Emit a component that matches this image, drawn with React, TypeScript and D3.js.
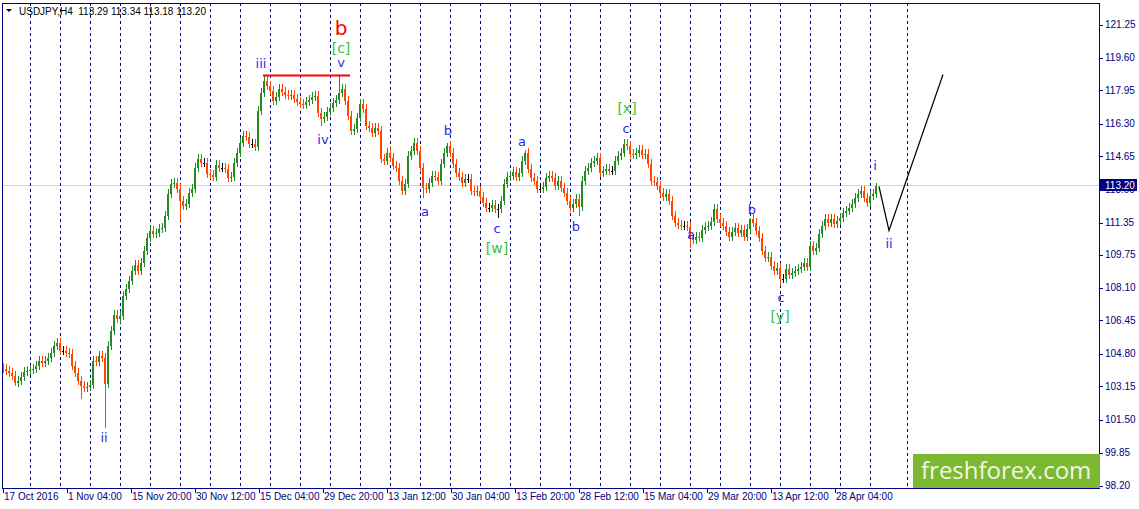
import React, { useRef, useEffect } from "react";
import * as d3 from "d3";

// USDJPY H4 closes, one value every 3 bars
const closes = [
  104.05, 103.95, 103.85, 103.70, 103.35, 103.45, 103.65, 103.90, 103.95, 104.00, 104.05, 104.20,
  104.45, 104.35, 104.45, 104.60, 104.85, 105.20, 105.35, 104.95, 104.95, 104.85, 104.80, 104.20,
  103.85, 103.45, 103.20, 103.10, 103.15, 103.25, 104.45, 104.40, 104.70, 104.60, 103.30, 105.20,
  105.95, 106.75, 106.55, 106.70, 107.70, 108.05, 108.45, 108.95, 109.25, 108.95, 109.35, 109.95,
  110.60, 110.95, 110.80, 110.85, 111.05, 111.10, 111.70, 112.80, 113.30, 113.35, 113.05, 112.45,
  112.20, 112.30, 112.85, 113.05, 114.10, 114.55, 114.35, 114.35, 113.80, 113.75, 113.65, 114.25,
  114.10, 114.10, 114.05, 113.60, 113.65, 114.35, 114.85, 115.35, 115.70, 115.65, 115.30, 115.30,
  115.15, 116.95, 117.85, 118.45, 118.20, 117.95, 117.45, 117.65, 118.05, 117.90, 117.75, 117.70,
  117.75, 117.55, 117.40, 117.30, 117.25, 117.40, 117.50, 117.65, 117.70, 116.85, 116.55, 116.65,
  116.90, 117.10, 117.35, 117.50, 117.85, 118.05, 117.45, 116.70, 115.95, 116.05, 116.60, 117.30,
  117.05, 116.20, 116.10, 115.85, 116.10, 115.95, 114.55, 114.45, 114.85, 114.60, 114.20, 114.10,
  113.45, 112.95, 113.30, 114.70, 114.95, 115.35, 114.95, 114.10, 113.10, 113.05, 113.35, 113.70,
  113.65, 113.45, 114.30, 114.85, 115.20, 114.85, 114.30, 113.85, 113.65, 113.35, 113.55, 113.55,
  112.95, 112.90, 112.95, 112.65, 112.35, 112.10, 112.10, 112.25, 112.05, 112.05, 112.45, 113.30,
  113.65, 113.70, 113.90, 113.65, 113.85, 114.45, 114.85, 114.05, 113.60, 113.45, 113.05, 113.05,
  113.15, 113.60, 113.70, 113.60, 113.20, 113.45, 113.10, 112.85, 112.45, 112.10, 112.30, 112.55,
  112.15, 113.45, 113.95, 114.10, 114.35, 114.45, 114.60, 113.85, 113.95, 114.05, 113.95, 113.95,
  114.45, 114.70, 114.85, 115.30, 115.20, 114.80, 114.75, 114.85, 115.00, 114.75, 114.80, 114.30,
  113.45, 113.40, 113.20, 112.85, 112.65, 112.80, 112.45, 111.70, 111.35, 111.25, 111.20, 111.20,
  111.15, 110.55, 110.50, 110.65, 110.60, 111.00, 111.15, 111.20, 111.40, 112.05, 111.55, 111.35,
  111.20, 110.90, 110.65, 110.90, 111.10, 110.85, 111.00, 110.65, 111.05, 111.55, 111.35, 110.95,
  110.60, 109.95, 109.60, 109.65, 109.20, 108.95, 109.10, 108.55, 108.55, 109.05, 108.75, 108.85,
  108.95, 109.05, 109.15, 109.35, 109.15, 110.20, 109.95, 110.10, 110.80, 111.20, 111.55, 111.35,
  111.55, 111.30, 111.45, 111.60, 111.85, 111.95, 112.10, 112.30, 112.60, 112.80, 112.95, 112.60,
  112.35, 112.70, 112.80, 113.20,
];
const BARS_PER_SAMPLE = 3;

// extreme wicks: [sample index, price]
const spikeHighs = [[87, 118.70], [112, 118.70], [148, 115.35], [174, 115.00], [208, 115.55], [249, 111.60], [291, 113.35]];
const spikeLows = [[4, 103.20], [26, 102.55], [34, 101.10], [59, 111.45], [106, 116.20], [140, 112.60], [165, 111.60], [192, 111.70], [229, 110.10], [259, 108.20]];

const priceTicks = [121.25, 119.60, 117.95, 116.30, 114.65, 113.00, 111.35, 109.75, 108.10, 106.45, 104.80, 103.15, 101.50, 99.85, 98.20];
const dateLabels = ["17 Oct 2016", "1 Nov 04:00", "15 Nov 20:00", "30 Nov 12:00", "15 Dec 04:00", "29 Dec 20:00", "13 Jan 12:00",
  "30 Jan 04:00", "13 Feb 20:00", "28 Feb 12:00", "15 Mar 04:00", "29 Mar 20:00", "13 Apr 12:00", "28 Apr 04:00"];
const dateLabelBars = [0, 64, 128, 192, 256, 320, 384, 448, 512, 576, 640, 704, 768, 832];
const weekSeparatorBars = [27, 57, 87, 117, 147, 177, 207, 237, 267, 297, 327, 357, 387, 417, 447, 477, 507, 537, 567, 597,
  627, 657, 687, 717, 747, 777, 807, 837, 867, 904];

const lastPrice = 113.20;
const titleText = "USDJPY,H4  113.29 113.34 113.18 113.20";

// wave marks: [text, bar, price, kind]
const waveLabels: [string, number, number, string][] = [
  ["ii", 101, 100.60, "minor"],
  ["iii", 258, 119.30, "minor"],
  ["b", 338, 121.10, "major"],
  ["[c]", 338, 120.10, "inter"],
  ["v", 338, 119.35, "minor"],
  ["iv", 320, 115.50, "minor"],
  ["a", 422, 111.90, "minor"],
  ["b", 445, 115.95, "minor"],
  ["c", 494, 111.05, "minor"],
  ["[w]", 494, 110.10, "inter"],
  ["a", 519, 115.40, "minor"],
  ["b", 573, 111.15, "minor"],
  ["[x]", 624, 117.10, "inter"],
  ["c", 623, 116.05, "minor"],
  ["a", 688, 110.75, "minor"],
  ["b", 749, 112.00, "minor"],
  ["c", 778, 107.60, "minor"],
  ["[y]", 777, 106.70, "inter"],
  ["i", 872, 114.20, "minor"],
  ["ii", 886, 110.30, "minor"],
];

const resistance = { from: 260, to: 347, price: 118.70 };
const projection: [number, number][] = [[876, 113.15], [886, 110.95], [940, 118.75]];

export default function App() {
  const ref = useRef<SVGSVGElement | null>(null);
  const width = 1139, height = 509;
  const plot = { left: 2, top: 3, right: 1099, bottom: 488 };

  useEffect(() => {
    document.body.style.margin = "0";
    const svg = d3.select(ref.current);
    svg.selectAll("*").remove();

    const x = d3.scaleLinear().domain([0, 1096]).range([3, 1099]);
    const y = d3.scaleLinear().domain([98.2, 121.25]).range([485.5, 24.5]);
    const axisFont = "Tahoma, 'Liberation Sans', sans-serif";
    const navy = "#000080";

    svg.append("rect").attr("width", width).attr("height", height).attr("fill", "#fff");

    svg.append("clipPath").attr("id", "plotClip")
      .append("rect")
      .attr("x", plot.left).attr("y", plot.top)
      .attr("width", plot.right - plot.left).attr("height", plot.bottom - plot.top);
    const g = svg.append("g").attr("clip-path", "url(#plotClip)");

    // current price line
    g.append("line")
      .attr("x1", plot.left).attr("x2", plot.right)
      .attr("y1", Math.round(y(lastPrice)) + 0.5).attr("y2", Math.round(y(lastPrice)) + 0.5)
      .attr("stroke", "#d3d3d3");

    // weekly separators
    g.selectAll(".sep")
      .data(weekSeparatorBars)
      .join("line")
      .attr("x1", d => Math.round(x(d)) + 0.5)
      .attr("x2", d => Math.round(x(d)) + 0.5)
      .attr("y1", plot.top).attr("y2", plot.bottom)
      .attr("stroke", "#0000a0")
      .attr("stroke-dasharray", "3,3");

    // candles
    const highs = new Map(spikeHighs.map(d => [d[0], d[1]]));
    const lows = new Map(spikeLows.map(d => [d[0], d[1]]));
    const candles = closes.map((c, k) => {
      const o = k === 0 ? c + 0.05 : closes[k - 1];
      return {
        bar: k * BARS_PER_SAMPLE, o, c,
        h: highs.get(k) ?? Math.max(o, c) + 0.22,
        l: lows.get(k) ?? Math.min(o, c) - 0.22,
      };
    });
    const colour = d => (Math.abs(d.c - d.o) < 0.03 ? "#000" : d.c > d.o ? "#228b22" : "#ff4500");
    const cg = g.append("g").attr("shape-rendering", "crispEdges");
    cg.selectAll(".wick")
      .data(candles)
      .join("rect")
      .attr("x", d => Math.round(x(d.bar)))
      .attr("width", 1)
      .attr("y", d => y(d.h))
      .attr("height", d => y(d.l) - y(d.h))
      .attr("fill", colour);
    cg.selectAll(".body")
      .data(candles)
      .join("rect")
      .attr("x", d => Math.round(x(d.bar)) - 1)
      .attr("width", 2)
      .attr("y", d => y(Math.max(d.o, d.c)))
      .attr("height", d => Math.max(1, Math.abs(y(d.o) - y(d.c))))
      .attr("fill", colour);

    // red resistance line
    g.append("line")
      .attr("x1", x(resistance.from)).attr("x2", x(resistance.to))
      .attr("y1", y(resistance.price)).attr("y2", y(resistance.price))
      .attr("stroke", "#ff0000").attr("stroke-width", 2);

    // projected path
    g.append("path")
      .datum(projection)
      .attr("d", d3.line<[number, number]>().x(d => x(d[0])).y(d => y(d[1])))
      .attr("fill", "none").attr("stroke", "#000").attr("stroke-width", 1.2);

    // wave labels
    const styleOf = {
      minor: { fill: "#2a2ae6", size: 13 },
      inter: { fill: "#36c236", size: 14 },
      major: { fill: "#ff0000", size: 20 },
    };
    g.selectAll(".wave")
      .data(waveLabels)
      .join("text")
      .attr("x", d => x(d[1]))
      .attr("y", d => y(d[2]))
      .attr("text-anchor", "middle")
      .attr("dominant-baseline", "central")
      .attr("font-family", "Tahoma, 'DejaVu Sans', sans-serif")
      .attr("font-size", d => styleOf[d[3]].size)
      .attr("fill", d => styleOf[d[3]].fill)
      .text(d => d[0]);

    // title
    svg.append("path").attr("d", "M6,9 L12,9 L9,12 Z").attr("fill", "#000");
    svg.append("text")
      .attr("x", 19).attr("y", 15)
      .attr("font-family", axisFont).attr("font-size", 10)
      .attr("fill", "#000")
      .attr("xml:space", "preserve")
      .text(titleText.replace("  ", "\u00a0\u00a0"));

    // frame
    svg.append("rect")
      .attr("x", plot.left + 0.5).attr("y", plot.top + 0.5)
      .attr("width", plot.right - plot.left).attr("height", plot.bottom - plot.top)
      .attr("fill", "none").attr("stroke", navy);

    // price axis
    const py = svg.append("g");
    py.selectAll("line")
      .data(priceTicks)
      .join("line")
      .attr("x1", plot.right + 0.5).attr("x2", plot.right + 4)
      .attr("y1", d => Math.round(y(d)) + 0.5).attr("y2", d => Math.round(y(d)) + 0.5)
      .attr("stroke", navy);
    py.selectAll("text")
      .data(priceTicks)
      .join("text")
      .attr("x", 1105)
      .attr("y", d => y(d))
      .attr("dominant-baseline", "central")
      .attr("font-family", axisFont).attr("font-size", 10)
      .attr("fill", navy)
      .text(d => d.toFixed(2));

    // current price box
    const ly = Math.round(y(lastPrice));
    svg.append("rect")
      .attr("x", plot.right + 1).attr("y", ly - 6)
      .attr("width", 37).attr("height", 12)
      .attr("fill", navy);
    svg.append("text")
      .attr("x", 1105).attr("y", ly)
      .attr("dominant-baseline", "central")
      .attr("font-family", axisFont).attr("font-size", 10)
      .attr("fill", "#fff")
      .text(lastPrice.toFixed(2));

    // date axis
    const dx = svg.append("g");
    dx.selectAll("line")
      .data(dateLabelBars)
      .join("line")
      .attr("x1", d => Math.round(x(d)) + 0.5).attr("x2", d => Math.round(x(d)) + 0.5)
      .attr("y1", plot.bottom + 0.5).attr("y2", plot.bottom + 5)
      .attr("stroke", navy);
    dx.selectAll("text")
      .data(dateLabelBars)
      .join("text")
      .attr("x", d => x(d) + 1)
      .attr("y", 500)
      .attr("font-family", axisFont).attr("font-size", 10)
      .attr("fill", navy)
      .text((d, i) => dateLabels[i]);

    // watermark
    svg.append("rect")
      .attr("x", 913).attr("y", 454)
      .attr("width", 187).attr("height", 34)
      .attr("fill", "#7db832");
    svg.append("text")
      .attr("x", 921).attr("y", 479)
      .attr("font-family", "'Open Sans', sans-serif").attr("font-size", 24)
      .attr("fill", "#f0f6e2")
      .text("freshforex.com");
  }, []);

  return <svg ref={ref} width={width} height={height} style={{ display: "block" }} />;
}
